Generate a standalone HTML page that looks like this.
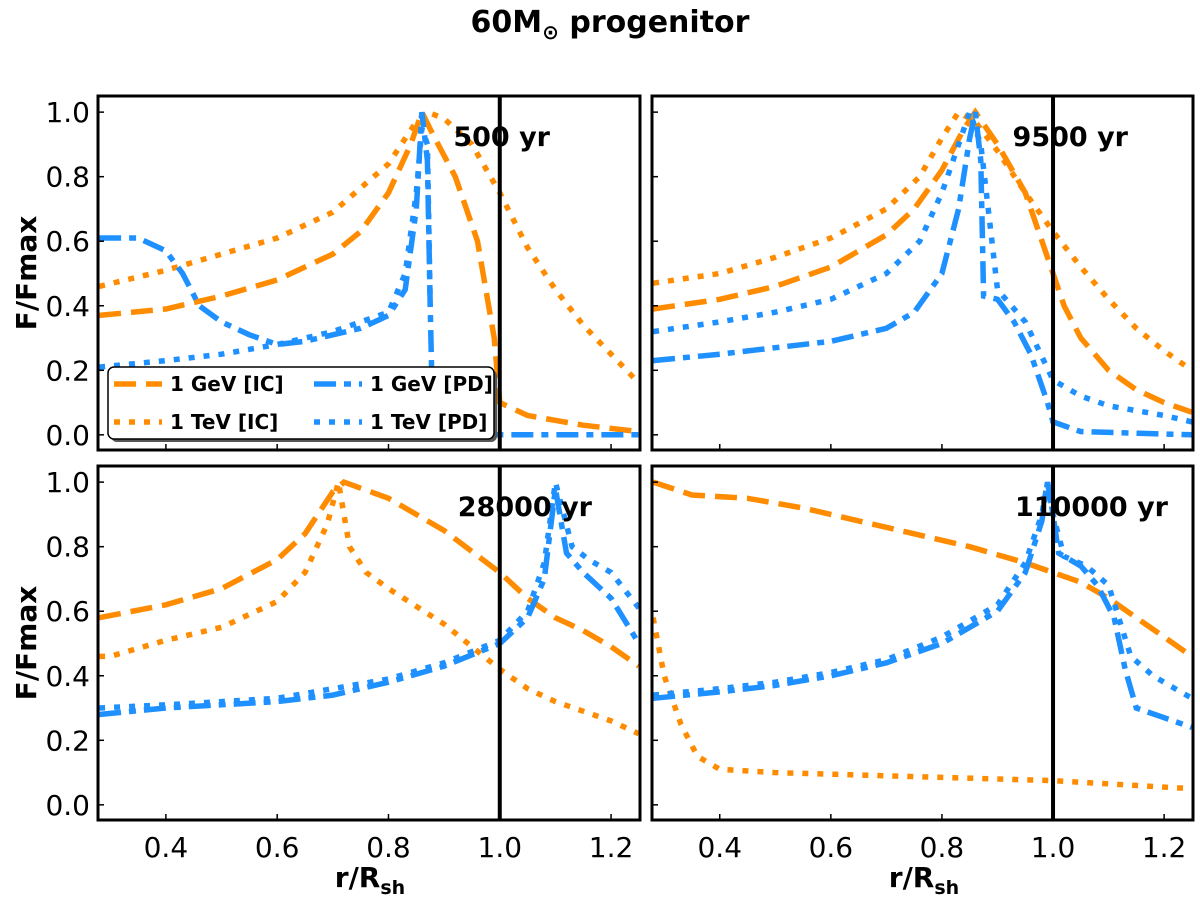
<!DOCTYPE html>
<html><head><meta charset="utf-8"><style>
body{margin:0;background:#fff;}
svg{display:block;font-family:"DejaVu Sans","Liberation Sans",sans-serif;}
</style></head><body>
<svg id="chart" width="1200" height="899" viewBox="0 0 1200 899">
<text x="610" y="32" text-anchor="middle" font-size="30" font-weight="bold">60M<tspan font-size="20" dy="7">⊙</tspan><tspan dy="-7"> progenitor</tspan></text>
<text transform="translate(36,273) rotate(-90)" text-anchor="middle" font-size="28" font-weight="bold">F/Fmax</text>
<text transform="translate(36,643) rotate(-90)" text-anchor="middle" font-size="28" font-weight="bold">F/Fmax</text>
<text x="370" y="887" text-anchor="middle" font-size="28" font-weight="bold">r/R<tspan font-size="19" dy="7">sh</tspan></text>
<text x="924" y="887" text-anchor="middle" font-size="28" font-weight="bold">r/R<tspan font-size="19" dy="7">sh</tspan></text>
</svg>
<script>
const xTicks=[0.4,0.6,0.8,1.0,1.2];
const yTicks=[0.0,0.2,0.4,0.6,0.8,1.0];
const panelLabels=["500 yr","9500 yr","28000 yr","110000 yr"];
const p1x_gevIC=[0.28,0.4,0.5,0.6,0.7,0.75,0.8,0.84,0.86,0.88,0.92,0.96,0.99,1.0,1.05,1.15,1.25];
const p1y_gevIC=[0.37,0.39,0.43,0.48,0.56,0.63,0.75,0.9,1.0,0.93,0.8,0.6,0.3,0.1,0.06,0.03,0.01];
const p1x_tevIC=[0.28,0.4,0.5,0.6,0.7,0.8,0.85,0.87,0.9,0.95,1.0,1.05,1.1,1.15,1.2,1.25];
const p1y_tevIC=[0.46,0.51,0.56,0.61,0.69,0.84,0.97,1.0,0.98,0.9,0.75,0.58,0.45,0.34,0.25,0.16];
const p1x_gevPD=[0.28,0.35,0.4,0.43,0.46,0.5,0.55,0.6,0.65,0.7,0.75,0.8,0.83,0.85,0.86,0.87,0.875,0.88,1.0,1.25];
const p1y_gevPD=[0.61,0.61,0.57,0.5,0.4,0.35,0.31,0.28,0.29,0.31,0.33,0.37,0.45,0.7,1.0,0.85,0.4,0.01,0.0,0.0];
const p1x_tevPD=[0.28,0.4,0.5,0.6,0.7,0.8,0.83,0.85,0.86,0.87,0.875];
const p1y_tevPD=[0.21,0.23,0.25,0.28,0.32,0.38,0.5,0.75,0.95,0.9,0.4];
const p2x_gevIC=[0.28,0.4,0.5,0.6,0.7,0.75,0.8,0.84,0.86,0.9,0.95,0.99,1.02,1.05,1.1,1.15,1.2,1.25];
const p2y_gevIC=[0.39,0.42,0.46,0.52,0.62,0.7,0.82,0.95,1.0,0.9,0.75,0.55,0.4,0.3,0.2,0.14,0.1,0.07];
const p2x_tevIC=[0.28,0.4,0.5,0.6,0.7,0.76,0.8,0.83,0.86,0.9,0.95,1.0,1.05,1.1,1.15,1.2,1.25];
const p2y_tevIC=[0.47,0.5,0.55,0.61,0.7,0.8,0.92,1.0,0.97,0.88,0.75,0.63,0.52,0.42,0.33,0.26,0.2];
const p2x_gevPD=[0.28,0.4,0.5,0.6,0.7,0.75,0.8,0.83,0.85,0.86,0.87,0.875,0.9,0.93,0.96,0.99,1.0,1.05,1.25];
const p2y_gevPD=[0.23,0.25,0.27,0.29,0.33,0.38,0.5,0.7,0.92,1.0,0.85,0.43,0.42,0.35,0.25,0.1,0.04,0.01,0.0];
const p2x_tevPD=[0.28,0.4,0.5,0.6,0.7,0.76,0.8,0.83,0.85,0.87,0.9,0.95,1.0,1.05,1.1,1.2,1.25];
const p2y_tevPD=[0.32,0.35,0.38,0.42,0.5,0.6,0.75,0.9,1.0,0.9,0.45,0.35,0.17,0.12,0.09,0.06,0.04];
const p3x_gevIC=[0.28,0.4,0.5,0.6,0.65,0.7,0.72,0.8,0.9,1.0,1.05,1.1,1.15,1.2,1.25];
const p3y_gevIC=[0.58,0.62,0.67,0.76,0.84,0.97,1.0,0.95,0.85,0.72,0.64,0.58,0.54,0.49,0.43];
const p3x_tevIC=[0.28,0.3,0.4,0.5,0.6,0.65,0.69,0.71,0.73,0.76,0.8,0.9,1.0,1.05,1.1,1.2,1.25];
const p3y_tevIC=[0.46,0.46,0.51,0.55,0.63,0.72,0.87,1.0,0.8,0.72,0.67,0.56,0.42,0.36,0.32,0.26,0.22];
const p3x_gevPD=[0.28,0.4,0.5,0.6,0.7,0.8,0.9,1.0,1.05,1.08,1.1,1.12,1.15,1.2,1.25];
const p3y_gevPD=[0.28,0.3,0.31,0.32,0.34,0.38,0.43,0.5,0.58,0.7,0.98,0.78,0.72,0.64,0.5];
const p3x_tevPD=[0.28,0.4,0.5,0.6,0.7,0.8,0.9,1.0,1.05,1.08,1.1,1.13,1.16,1.2,1.25];
const p3y_tevPD=[0.3,0.31,0.32,0.33,0.36,0.39,0.44,0.51,0.6,0.75,1.0,0.8,0.76,0.72,0.61];
const p4x_gevIC=[0.28,0.35,0.45,0.55,0.65,0.75,0.85,0.95,1.0,1.05,1.1,1.15,1.2,1.25];
const p4y_gevIC=[1.0,0.96,0.95,0.92,0.88,0.84,0.8,0.75,0.72,0.69,0.64,0.58,0.52,0.46];
const p4x_tevIC=[0.28,0.3,0.33,0.36,0.4,0.5,0.6,0.8,1.0,1.25];
const p4y_tevIC=[0.58,0.4,0.25,0.15,0.11,0.1,0.095,0.085,0.075,0.05];
const p4x_gevPD=[0.28,0.4,0.5,0.6,0.7,0.8,0.9,0.95,0.98,0.99,1.0,1.01,1.05,1.08,1.11,1.13,1.15,1.2,1.25];
const p4y_gevPD=[0.33,0.35,0.37,0.4,0.44,0.5,0.6,0.72,0.88,1.0,0.9,0.78,0.74,0.68,0.58,0.42,0.3,0.27,0.24];
const p4x_tevPD=[0.28,0.4,0.5,0.6,0.7,0.8,0.9,0.95,0.98,0.99,1.0,1.02,1.06,1.1,1.14,1.18,1.22,1.25];
const p4y_tevPD=[0.34,0.36,0.38,0.41,0.45,0.52,0.62,0.75,0.9,1.0,0.9,0.77,0.74,0.68,0.46,0.4,0.36,0.33];

const svg=document.getElementById('chart');
const NS='http://www.w3.org/2000/svg';
const ORANGE='#ff8c00',BLUE='#1e90ff';
const XMIN=0.278,XMAX=1.252,YMIN=-0.047,YMAX=1.05;
const panels=[
 {l:98,t:96,w:542,h:354,lab:0,showX:false,showY:true,lx:550,ly:146,s:[[p1x_gevIC,p1y_gevIC],[p1x_tevIC,p1y_tevIC],[p1x_gevPD,p1y_gevPD],[p1x_tevPD,p1y_tevPD]]},
 {l:652,t:96,w:541,h:354,lab:1,showX:false,showY:false,lx:1128,ly:146,s:[[p2x_gevIC,p2y_gevIC],[p2x_tevIC,p2y_tevIC],[p2x_gevPD,p2y_gevPD],[p2x_tevPD,p2y_tevPD]]},
 {l:98,t:466,w:542,h:354,lab:2,showX:true,showY:true,lx:592,ly:516,s:[[p3x_gevIC,p3y_gevIC],[p3x_tevIC,p3y_tevIC],[p3x_gevPD,p3y_gevPD],[p3x_tevPD,p3y_tevPD]]},
 {l:652,t:466,w:541,h:354,lab:3,showX:true,showY:false,lx:1168,ly:516,s:[[p4x_gevIC,p4y_gevIC],[p4x_tevIC,p4y_tevIC],[p4x_gevPD,p4y_gevPD],[p4x_tevPD,p4y_tevPD]]}
];
const styles=[
 {c:ORANGE,d:'22,10',n:'gev-ic'},
 {c:ORANGE,d:'6,9',n:'tev-ic'},
 {c:BLUE,d:'22,8,7,8',n:'gev-pd'},
 {c:BLUE,d:'6,9',n:'tev-pd'}
];
function mk(tag,attrs,parent){const e=document.createElementNS(NS,tag);for(const k in attrs)e.setAttribute(k,attrs[k]);(parent||svg).appendChild(e);return e;}
panels.forEach((p,i)=>{
 const sx=v=>p.l+(v-XMIN)/(XMAX-XMIN)*p.w;
 const sy=v=>p.t+p.h-(v-YMIN)/(YMAX-YMIN)*p.h;
 const g=mk('g',{});
 
 
 const cid='clip'+i;
 const cp=mk('clipPath',{id:cid},g);mk('rect',{x:p.l,y:p.t,width:p.w,height:p.h},cp);
 const sg=mk('g',{'clip-path':'url(#'+cid+')'},g);
 p.s.forEach((ser,j)=>{
  const st=styles[j];
  const d=ser[0].map((x,k)=>(k?'L':'M')+sx(x).toFixed(1)+','+sy(ser[1][k]).toFixed(1)).join(' ');
  const path=mk('path',{d:d,fill:'none',stroke:st.c,'stroke-width':5.5,'stroke-dasharray':st.d},sg);
  
  
 });
 const vl=mk('line',{x1:sx(1.0),x2:sx(1.0),y1:p.t,y2:p.t+p.h,stroke:'#000','stroke-width':4},g);
 
 
 xTicks.forEach(v=>{
  mk('line',{x1:sx(v),x2:sx(v),y1:p.t+p.h,y2:p.t+p.h-6,stroke:'#000','stroke-width':1.5},g);
  if(p.showX){const t=mk('text',{x:sx(v),y:p.t+p.h+37,'text-anchor':'middle','font-size':28},g);t.textContent=v.toFixed(1);
   
   }
 });
 yTicks.forEach(v=>{
  mk('line',{x1:p.l,x2:p.l+6,y1:sy(v),y2:sy(v),stroke:'#000','stroke-width':1.5},g);
  if(p.showY){const t=mk('text',{x:p.l-8,y:sy(v)+10,'text-anchor':'end','font-size':28},g);t.textContent=v.toFixed(1);
   
   }
 });
 const fr=mk('rect',{x:p.l,y:p.t,width:p.w,height:p.h,fill:'none',stroke:'#000','stroke-width':3},g);
 
 
 const lt=mk('text',{x:p.lx,y:p.ly,'text-anchor':'end','font-size':27,'font-weight':'bold'},g);
 lt.textContent=panelLabels[p.lab];
 
 
});
const lg=mk('g',{});


mk('rect',{x:111,y:370,width:386,height:72,rx:6,fill:'#555'},lg);
mk('rect',{x:108,y:367,width:386,height:72,rx:6,fill:'#fff',stroke:'#000','stroke-width':1.5},lg);
const legTxt=['1 GeV [IC]','1 TeV [IC]','1 GeV [PD]','1 TeV [PD]'];
const legPos=[[114,384],[114,422],[314,384],[314,422]];
legTxt.forEach((s,k)=>{
 const st=styles[k];const [x,y]=legPos[k];
 const ln=mk('line',{x1:x,x2:x+48,y1:y,y2:y,stroke:st.c,'stroke-width':5.5,'stroke-dasharray':st.d},lg);
 
 
 const t=mk('text',{x:x+56,y:y+7,'font-size':20,'font-weight':'bold'},lg);t.textContent=s;
 
 
});
</script>
</body></html>
